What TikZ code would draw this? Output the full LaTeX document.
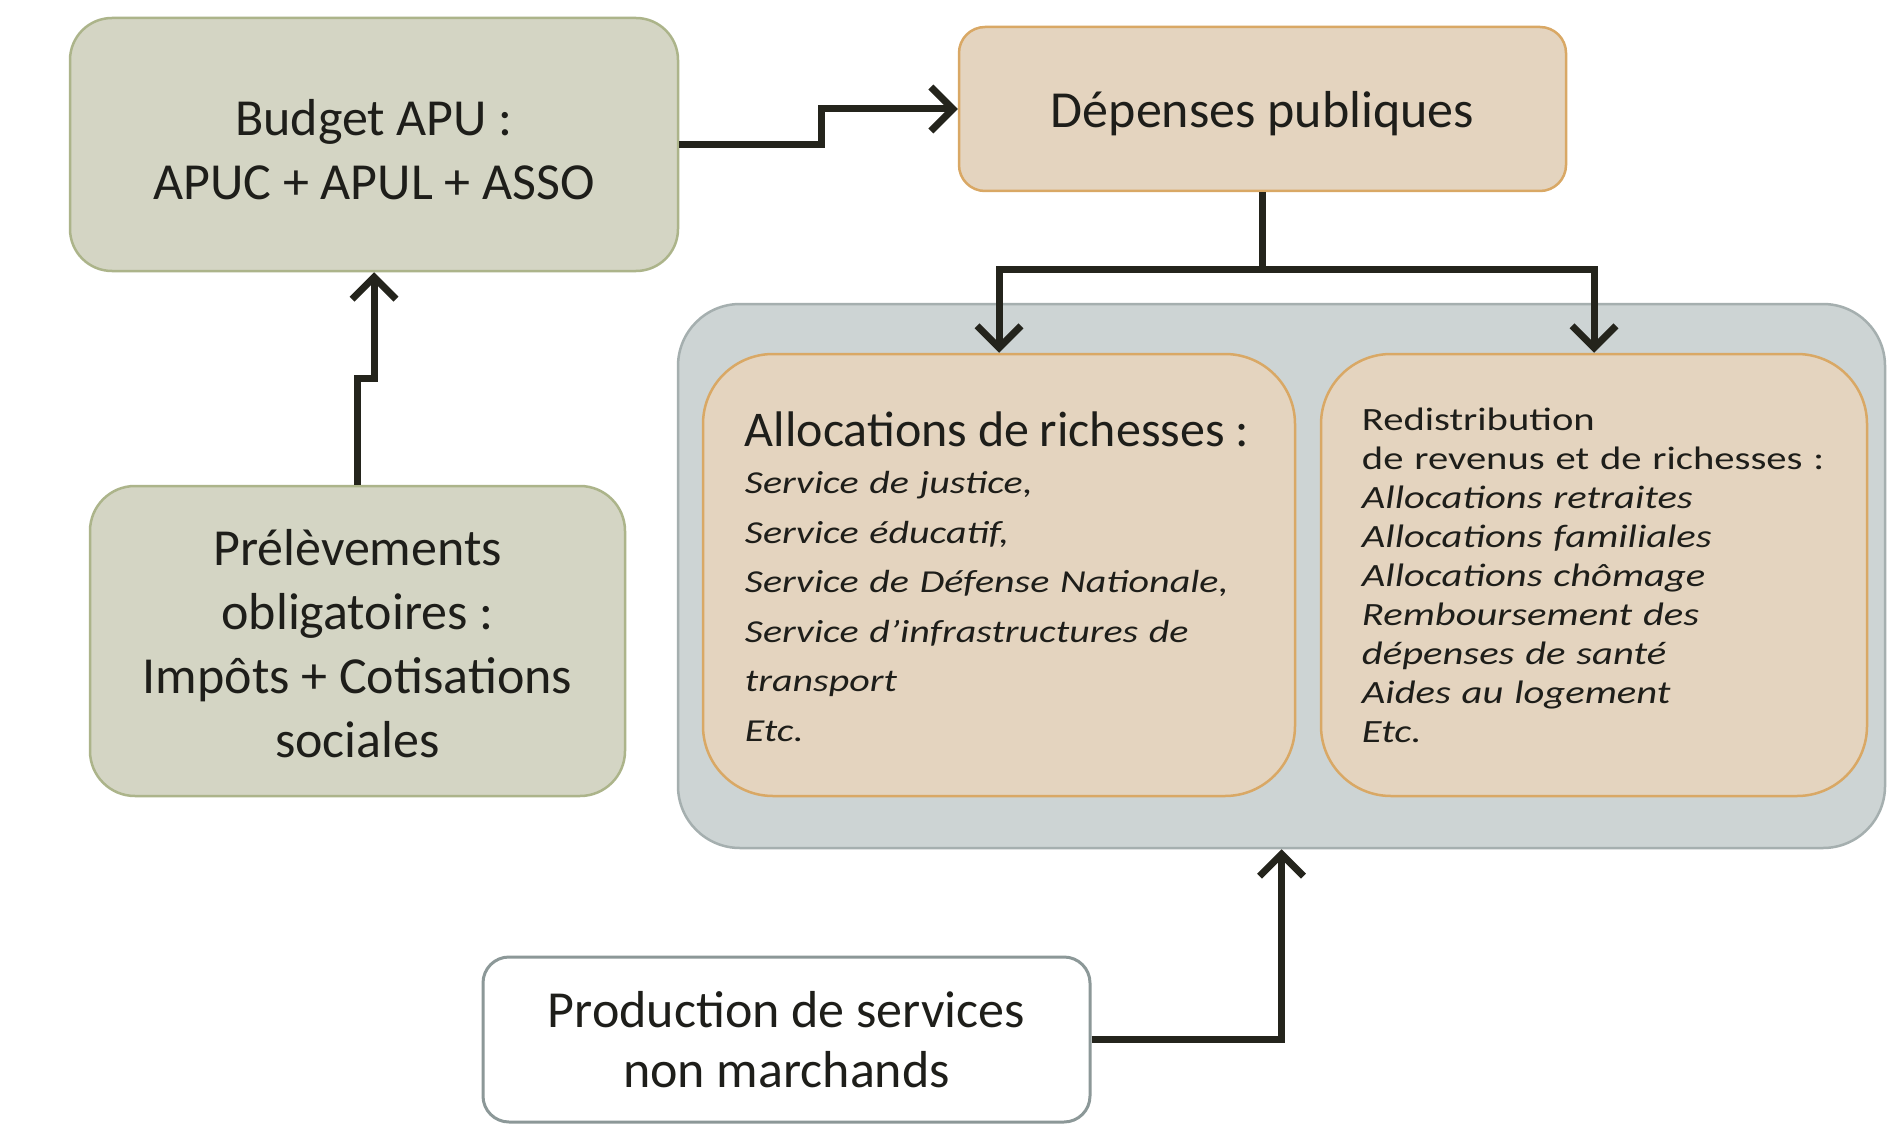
\documentclass[tikz,border=0pt]{standalone}
\usepackage{fontspec}
\setmainfont{Carlito}
\newfontfamily\widefont[FakeStretch=1.25]{Carlito}
\usepackage{tikz}
\usetikzlibrary{positioning,calc,arrows.meta}
\definecolor{inkc}{RGB}{30,30,26}
\definecolor{arrowc}{RGB}{36,36,28}
\definecolor{olivefill}{RGB}{212,213,196}
\definecolor{olivedraw}{RGB}{172,180,138}
\definecolor{tanfill}{RGB}{228,212,191}
\definecolor{tandraw}{RGB}{217,168,101}
\definecolor{blocfill}{RGB}{205,212,212}
\definecolor{blocdraw}{RGB}{165,175,175}
\definecolor{proddraw}{RGB}{140,152,152}

\begin{document}
\begin{tikzpicture}[x=1pt,y=-1pt,
  every node/.style={text=inkc},
  greenbox/.style={draw=olivedraw, line width=2.5, fill=olivefill, rounded corners=42,
    align=center, font=\fontsize{52}{64}\selectfont},
  tanbox/.style={draw=tandraw, line width=2.5, fill=tanfill, rounded corners=26,
    align=center, font=\fontsize{52}{64}\selectfont},
  greybloc/.style={draw=blocdraw, line width=2.5, fill=blocfill, rounded corners=62},
  whitebox/.style={draw=proddraw, line width=3, fill=white, rounded corners=26,
    align=center, font=\fontsize{52}{60}\selectfont},
  listtext/.style={align=left, inner sep=0, anchor=west},
  flow/.style={draw=arrowc, line width=7, -{Straight Barb[length=22pt, width=44pt]}}]

  \useasboundingbox[fill=white] (0,0) rectangle (1892,1142);

  \node[greenbox, minimum width=608, minimum height=253] (budget) at (374,144.5)
    {\rule{0pt}{47pt}Budget APU :\\APUC + APUL + ASSO};
  \node[tanbox, text depth=0, minimum width=607, minimum height=164] (dep) at (1262.5,109)
    {Dépenses publiques};
  \node[greybloc, minimum width=1207, minimum height=544] (bloc) at (1281.5,576) {};
  \node[tanbox, rounded corners=70, minimum width=592, minimum height=442] (alloc) at (999,575) {};
  \node[tanbox, rounded corners=70, minimum width=546, minimum height=442] (redis) at (1594,575) {};
  \node[greenbox, rounded corners=45, minimum width=535, minimum height=310] (prel) at (357.5,641)
    {\rule{0pt}{41pt}Prélèvements\\obligatoires :\\Impôts + Cotisations\\sociales};
  \node[whitebox, minimum width=607, minimum height=165] (prod) at (786.5,1039.5)
    {Production de services\\non marchands};

  \node[listtext, text width=530, font=\widefont\fontsize{32}{49.5}\selectfont] (allocTxt)
    at ($(alloc.west)+(43,2)$)
    {{\normalfont\fontsize{50}{60}\selectfont Allocations de richesses :}\\[-2.5pt]
     \textit{Service de justice,}\\
     \textit{Service éducatif,}\\
     \textit{Service de Défense Nationale,}\\
     \textit{Service d’infrastructures de}\\
     \textit{transport}\\
     \textit{Etc.}};
  \node[listtext, text width=490, font=\widefont\fontsize{32.5}{39}\selectfont] (redisTxt)
    at ($(redis.west)+(42,0)$)
    {Redistribution\\
     de revenus et de richesses :\\
     \textit{Allocations retraites}\\
     \textit{Allocations familiales}\\
     \textit{Allocations chômage}\\
     \textit{Remboursement des}\\
     \textit{dépenses de santé}\\
     \textit{Aides au logement}\\
     \textit{Etc.}};

  \draw[flow] (budget.east) -- ++(142,0) |- (dep.west);
  \draw[flow] (prel.north) -- ++(0,-106) -| (budget.south);
  \draw[flow] (dep.south) -- ++(0,77) -| (alloc.north);
  \draw[flow] (dep.south) -- ++(0,77) -| (redis.north);
  \draw[flow] (prod.east) -| (bloc.south);
\end{tikzpicture}
\end{document}
